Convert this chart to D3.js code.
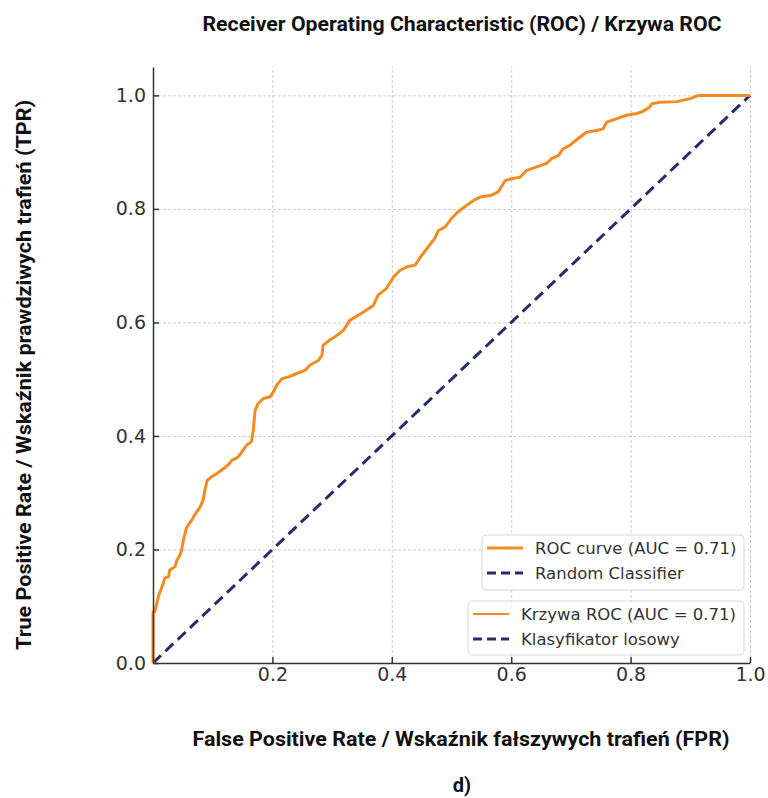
<!DOCTYPE html>
<html>
<head>
<meta charset="utf-8">
<script src="https://cdn.jsdelivr.net/npm/d3@7"></script>
<style>
	body { margin: 0; background: #fff; }
	svg { display: block; }
</style>
</head>
<body>
<div id="chart"></div>
<script>

// values
const fpr = [0, 0, 0.003, 0.009, 0.015, 0.020, 0.026, 0.028, 0.037, 0.040, 0.045, 0.048, 0.051, 0.056, 0.065, 0.070,
	0.079, 0.084, 0.087, 0.091, 0.098, 0.107, 0.115, 0.126, 0.132, 0.143, 0.151, 0.157, 0.165, 0.168, 0.171, 0.176,
	0.185, 0.196, 0.202, 0.207, 0.216, 0.227, 0.241, 0.255, 0.263, 0.277, 0.283, 0.285, 0.296, 0.308, 0.319, 0.330,
	0.352, 0.369, 0.377, 0.391, 0.403, 0.414, 0.425, 0.439, 0.450, 0.461, 0.472, 0.478, 0.489, 0.500, 0.511, 0.525,
	0.537, 0.548, 0.567, 0.578, 0.590, 0.601, 0.615, 0.626, 0.643, 0.659, 0.668, 0.679, 0.687, 0.698, 0.712, 0.726,
	0.743, 0.754, 0.760, 0.777, 0.793, 0.810, 0.819, 0.832, 0.835, 0.849, 0.877, 0.899, 0.911, 0.916, 1.0];
const tpr = [0, 0.090, 0.090, 0.117, 0.134, 0.150, 0.152, 0.164, 0.170, 0.181, 0.190, 0.199, 0.217, 0.238, 0.252, 0.261,
	0.275, 0.287, 0.305, 0.322, 0.328, 0.334, 0.340, 0.349, 0.357, 0.363, 0.375, 0.384, 0.390, 0.410, 0.445, 0.457,
	0.466, 0.469, 0.478, 0.489, 0.501, 0.504, 0.510, 0.516, 0.525, 0.533, 0.542, 0.560, 0.569, 0.577, 0.586, 0.604,
	0.618, 0.630, 0.648, 0.660, 0.680, 0.692, 0.698, 0.701, 0.718, 0.733, 0.748, 0.762, 0.768, 0.783, 0.795, 0.806,
	0.815, 0.821, 0.824, 0.830, 0.850, 0.853, 0.856, 0.868, 0.874, 0.880, 0.889, 0.894, 0.906, 0.912, 0.924, 0.935,
	0.938, 0.941, 0.953, 0.959, 0.965, 0.968, 0.971, 0.979, 0.985, 0.988, 0.989, 0.994, 0.999, 1.0, 1.0];
const chance = [0, 1];

const xTicks = [0.2, 0.4, 0.6, 0.8, 1.0];
const yTicks = [0, 0.2, 0.4, 0.6, 0.8, 1.0];

const legendTop = ['ROC curve (AUC = 0.71)', 'Random Classifier'];
const legendBottom = ['Krzywa ROC (AUC = 0.71)', 'Klasyfikator losowy'];

const titleText = 'Receiver Operating Characteristic (ROC) / Krzywa ROC';
const xLabelText = 'False Positive Rate / Wskaźnik fałszywych trafień (FPR)';
const yLabelText = 'True Positive Rate / Wskaźnik prawdziwych trafień (TPR)';
const panelText = 'd)';

const theme = {
	roc: '#f28b22',
	chance: '#292b6b',
	grid: '#cccccc',
	axis: '#333333',
	text: '#333333',
};

const width = 768;
const height = 798;

const svg = d3.select('#chart')
	.append('svg')
	.attr('width', width)
	.attr('height', height);

const x = d3.scaleLinear().domain([0, 1]).range([153, 750]);
const y = d3.scaleLinear().domain([0, 1.05]).range([663, 67]);

// grid
svg.append('g')
	.attr('transform', `translate(0,${y(0)})`)
	.call(d3.axisBottom(x).tickValues(xTicks).tickSize(-(y(0) - y(1.05))).tickFormat(''))
	.call(g => g.select('.domain').remove())
	.call(g => g.selectAll('line')
		.attr('stroke', theme.grid)
		.attr('stroke-dasharray', '3,2'));

svg.append('g')
	.attr('transform', `translate(${x(0)},0)`)
	.call(d3.axisLeft(y).tickValues(yTicks.slice(1)).tickSize(-(x(1) - x(0))).tickFormat(''))
	.call(g => g.select('.domain').remove())
	.call(g => g.selectAll('line')
		.attr('stroke', theme.grid)
		.attr('stroke-dasharray', '3,2'));

// lines
const line = d3.line()
	.x(d => x(d[0]))
	.y(d => y(d[1]));

svg.append('path')
	.datum(chance.map(v => [v, v]))
	.attr('d', line)
	.attr('fill', 'none')
	.attr('stroke', theme.chance)
	.attr('stroke-width', 3)
	.attr('stroke-dasharray', '11,6');

svg.append('path')
	.datum(fpr.map((v, i) => [v, tpr[i]]))
	.attr('d', line)
	.attr('fill', 'none')
	.attr('stroke', theme.roc)
	.attr('stroke-width', 3)
	.attr('stroke-linejoin', 'round');

// axes
const styleAxis = g => {
	g.select('.domain').attr('stroke', theme.axis).attr('stroke-width', 1.5);
	g.selectAll('.tick line').attr('stroke', theme.axis).attr('stroke-width', 1.5);
	g.selectAll('.tick text')
		.attr('fill', theme.text)
		.style('font-family', '"DejaVu Sans", sans-serif')
		.style('font-size', '19px');
};

svg.append('g')
	.attr('transform', `translate(0,${y(0)})`)
	.call(d3.axisBottom(x).tickValues(xTicks).tickSizeInner(-6).tickSizeOuter(0).tickPadding(5).tickFormat(d3.format('.1f')))
	.call(styleAxis);

svg.append('g')
	.attr('transform', `translate(${x(0)},0)`)
	.call(d3.axisLeft(y).tickValues(yTicks).tickSizeInner(-6).tickSizeOuter(0).tickPadding(7).tickFormat(d3.format('.1f')))
	.call(styleAxis);

// legends
const drawLegend = (labels, box, widths) => {
	const g = svg.append('g');
	g.append('rect')
		.attr('x', box[0])
		.attr('y', box[1])
		.attr('width', box[2])
		.attr('height', box[3])
		.attr('rx', 4)
		.attr('fill', '#fff')
		.attr('fill-opacity', 0.85)
		.attr('stroke', '#d6d6d6');

	labels.forEach((label, i) => {
		const cy = box[1] + 13 + i * 25;
		g.append('line')
			.attr('x1', box[0] + 5)
			.attr('x2', box[0] + 41)
			.attr('y1', cy)
			.attr('y2', cy)
			.attr('stroke', i === 0 ? theme.roc : theme.chance)
			.attr('stroke-width', i === 0 ? widths[0] : widths[1])
			.attr('stroke-dasharray', i === 0 ? null : '9,5');
		g.append('text')
			.attr('x', box[0] + 53)
			.attr('y', cy)
			.attr('dy', '0.36em')
			.attr('fill', theme.text)
			.style('font-family', '"DejaVu Sans", sans-serif')
			.style('font-size', '16.5px')
			.text(label);
	});
};

drawLegend(legendTop, [482, 535, 262, 55], [3, 3]);
drawLegend(legendBottom, [468, 601, 276, 54], [2.2, 3]);

// labels
const bold = sel => sel
	.attr('text-anchor', 'middle')
	.attr('fill', '#111')
	.attr('lengthAdjust', 'spacingAndGlyphs')
	.style('font-family', 'Roboto, sans-serif')
	.style('font-weight', 700);

svg.append('text')
	.attr('x', 462)
	.attr('y', 31)
	.attr('textLength', 519)
	.style('font-size', '20px')
	.call(bold)
	.text(titleText);

svg.append('text')
	.attr('x', 461)
	.attr('y', 746)
	.attr('textLength', 537)
	.style('font-size', '20px')
	.call(bold)
	.text(xLabelText);

svg.append('text')
	.attr('transform', 'translate(31,375) rotate(-90)')
	.attr('textLength', 550)
	.style('font-size', '20px')
	.call(bold)
	.text(yLabelText);

svg.append('text')
	.attr('x', 462)
	.attr('y', 792)
	.style('font-size', '20px')
	.call(bold)
	.text(panelText);

</script>
</body>
</html>
